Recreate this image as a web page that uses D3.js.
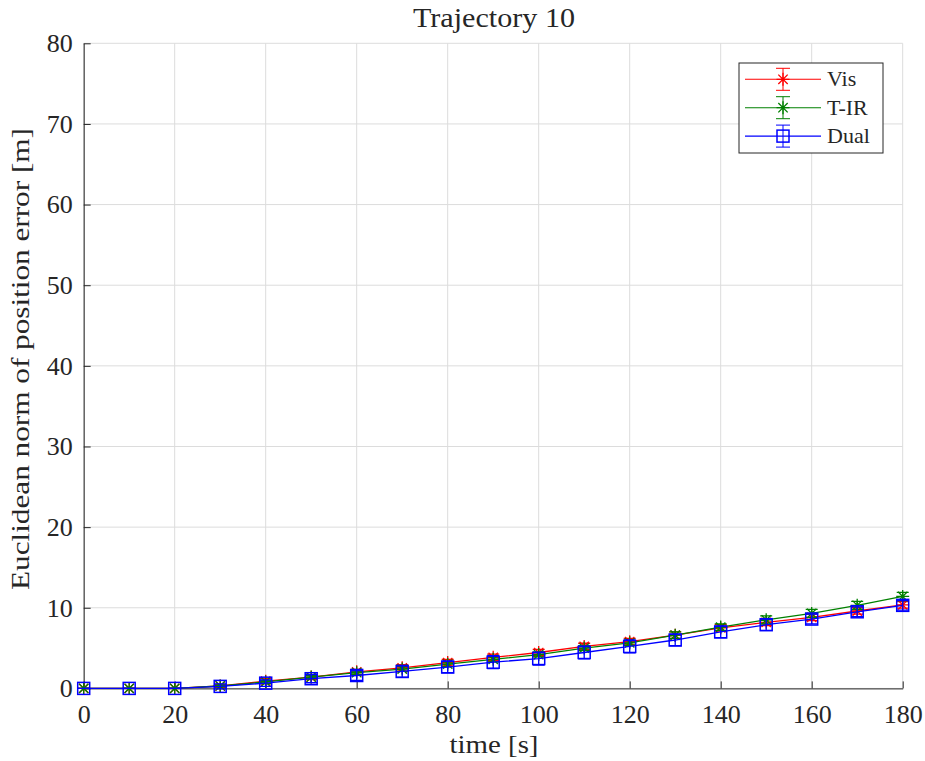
<!DOCTYPE html>
<html>
<head>
<meta charset="utf-8">
<script src="https://cdn.jsdelivr.net/npm/d3@7/dist/d3.min.js"></script>
<style>
	body { margin: 0; background: #ffffff; }
	svg text { font-family: "Liberation Serif", serif; fill: #262626; }
</style>
</head>
<body>
<div id="chart"></div>
<script>
var TIMES = [0, 10, 20, 30, 40, 50, 60, 70, 80, 90, 100, 110, 120, 130, 140, 150, 160, 170, 180];

var VIS = [0, 0, 0, 0.3, 0.9, 1.4, 2.05, 2.55, 3.2, 3.85, 4.45, 5.2, 5.8, 6.6, 7.5, 8.2, 8.8, 9.6, 10.35];
var VIS_ERR = [0, 0, 0, 0.2, 0.3, 0.3, 0.3, 0.4, 0.4, 0.4, 0.4, 0.4, 0.4, 0.4, 0.4, 0.4, 0.4, 0.4, 0.4];

var TIR = [0, 0, 0, 0.3, 0.8, 1.4, 1.95, 2.4, 3.0, 3.6, 4.2, 5.0, 5.65, 6.6, 7.6, 8.5, 9.3, 10.3, 11.4];
var TIR_ERR = [0, 0, 0, 0.1, 0.2, 0.2, 0.2, 0.3, 0.3, 0.3, 0.3, 0.3, 0.3, 0.4, 0.4, 0.5, 0.5, 0.5, 0.5];

var DUAL = [0, 0, 0, 0.25, 0.65, 1.2, 1.6, 2.1, 2.65, 3.25, 3.7, 4.45, 5.2, 6.0, 7.0, 7.9, 8.6, 9.5, 10.3];
var DUAL_ERR = [0, 0, 0, 0.3, 0.4, 0.5, 0.6, 0.7, 0.7, 0.8, 0.8, 0.8, 0.8, 0.7, 0.7, 0.7, 0.6, 0.6, 0.6];

var X_TICKS = [0, 20, 40, 60, 80, 100, 120, 140, 160, 180];
var Y_TICKS = [0, 10, 20, 30, 40, 50, 60, 70, 80];

var SERIES_NAMES = ["Vis", "T-IR", "Dual"];
var SERIES_COLORS = ["#ff0000", "#008000", "#0000ff"];
var SERIES_MARKERS = ["star", "star", "square"];

var WIDTH = 925;
var HEIGHT = 761;
var AXIS_COLOR = "#262626";
var GRID_COLOR = "#dcdcdc";

var series = [
	{ values: VIS, err: VIS_ERR },
	{ values: TIR, err: TIR_ERR },
	{ values: DUAL, err: DUAL_ERR }
];
series.forEach(function(s, i) {
	s.name = SERIES_NAMES[i];
	s.color = SERIES_COLORS[i];
	s.marker = SERIES_MARKERS[i];
});

var x = d3.scaleLinear().domain([0, 180]).range([83.7, 902.7]);
var y = d3.scaleLinear().domain([0, 80]).range([688.4, 43.3]);

var svg = d3.select("#chart").append("svg")
	.attr("width", WIDTH)
	.attr("height", HEIGHT);

//grid
svg.append("g")
	.selectAll("line.gx")
	.data(X_TICKS)
	.enter().append("line")
	.attr("x1", function(d) { return x(d); })
	.attr("x2", function(d) { return x(d); })
	.attr("y1", y(0))
	.attr("y2", y(80))
	.attr("stroke", GRID_COLOR)
	.attr("stroke-width", 1);

svg.append("g")
	.selectAll("line.gy")
	.data(Y_TICKS)
	.enter().append("line")
	.attr("x1", x(0))
	.attr("x2", x(180))
	.attr("y1", function(d) { return y(d); })
	.attr("y2", function(d) { return y(d); })
	.attr("stroke", GRID_COLOR)
	.attr("stroke-width", 1);

//axes, ticks pointing inwards
var xAxis = svg.append("g")
	.attr("transform", "translate(0," + y(0) + ")")
	.call(d3.axisBottom(x).tickValues(X_TICKS).tickSizeInner(-7).tickSizeOuter(0).tickPadding(16));

var yAxis = svg.append("g")
	.attr("transform", "translate(" + x(0) + ",0)")
	.call(d3.axisLeft(y).tickValues(Y_TICKS).tickSizeInner(-7).tickSizeOuter(0).tickPadding(11));

[xAxis, yAxis].forEach(function(a) {
	a.select(".domain").attr("stroke", AXIS_COLOR);
	a.selectAll(".tick line").attr("stroke", AXIS_COLOR);
	a.selectAll(".tick text")
		.style("font-family", "Liberation Serif")
		.style("font-size", "26px")
		.attr("fill", "#3a3a3a");
});

function starPath(r) {
	var d = r * 0.72;
	return "M0," + (-r) + "L0," + r +
		"M" + (-r) + ",0L" + r + ",0" +
		"M" + (-d) + "," + (-d) + "L" + d + "," + d +
		"M" + (-d) + "," + d + "L" + d + "," + (-d);
}

function drawMarker(g, type, color) {
	if(type === "star") {
		g.append("path")
			.attr("d", starPath(6.5))
			.attr("fill", "none")
			.attr("stroke", color)
			.attr("stroke-width", 1.3);
	} else {
		g.append("rect")
			.attr("x", -6)
			.attr("y", -6)
			.attr("width", 12)
			.attr("height", 12)
			.attr("fill", "none")
			.attr("stroke", color)
			.attr("stroke-width", 1.5);
	}
}

var line = d3.line()
	.x(function(d) { return x(d.t); })
	.y(function(d) { return y(d.v); });

var CAP = 6;

series.forEach(function(s) {
	var pts = TIMES.map(function(t, i) {
		return { t: t, v: s.values[i], e: s.err[i] };
	});
	var g = svg.append("g");

	g.append("path")
		.datum(pts)
		.attr("d", line)
		.attr("fill", "none")
		.attr("stroke", s.color)
		.attr("stroke-width", 1.3);

	g.selectAll(".bar")
		.data(pts)
		.enter().append("path")
		.attr("d", function(d) {
			var cx = x(d.t);
			var top = y(d.v + d.e);
			var bot = y(d.v - d.e);
			return "M" + cx + "," + top + "L" + cx + "," + bot +
				"M" + (cx - CAP) + "," + top + "L" + (cx + CAP) + "," + top +
				"M" + (cx - CAP) + "," + bot + "L" + (cx + CAP) + "," + bot;
		})
		.attr("fill", "none")
		.attr("stroke", s.color)
		.attr("stroke-width", 1.3);

	g.selectAll(".mk")
		.data(pts)
		.enter().append("g")
		.attr("transform", function(d) {
			return "translate(" + x(d.t) + "," + y(d.v) + ")";
		})
		.each(function() {
			drawMarker(d3.select(this), s.marker, s.color);
		});
});

//legend
var legend = svg.append("g").attr("transform", "translate(739,63)");

legend.append("rect")
	.attr("width", 144)
	.attr("height", 90)
	.attr("fill", "#ffffff")
	.attr("stroke", AXIS_COLOR)
	.attr("stroke-width", 1);

series.forEach(function(s, i) {
	var row = legend.append("g")
		.attr("transform", "translate(0," + (16.3 + i * 28.4) + ")");
	row.append("line")
		.attr("x1", 6)
		.attr("x2", 82)
		.attr("stroke", s.color)
		.attr("stroke-width", 1.1);
	row.append("path")
		.attr("d", "M44,-11L44,11M37,-11L51,-11M37,11L51,11")
		.attr("fill", "none")
		.attr("stroke", s.color)
		.attr("stroke-width", 1);
	drawMarker(row.append("g").attr("transform", "translate(44,0)"), s.marker, s.color);
	row.append("text")
		.attr("x", 88)
		.attr("y", 7)
		.style("font-size", "22px")
		.text(s.name);
});

//title and labels
svg.append("text")
	.attr("x", 494)
	.attr("y", 27)
	.attr("text-anchor", "middle")
	.attr("textLength", 162)
	.attr("lengthAdjust", "spacingAndGlyphs")
	.style("font-size", "27px")
	.text("Trajectory 10");

svg.append("text")
	.attr("x", 494)
	.attr("y", 753)
	.attr("text-anchor", "middle")
	.attr("textLength", 89)
	.attr("lengthAdjust", "spacingAndGlyphs")
	.style("font-size", "26px")
	.text("time [s]");

svg.append("text")
	.attr("transform", "translate(29,359) rotate(-90)")
	.attr("text-anchor", "middle")
	.attr("textLength", 462)
	.attr("lengthAdjust", "spacingAndGlyphs")
	.style("font-size", "26px")
	.text("Euclidean norm of position error [m]");
</script>
</body>
</html>
